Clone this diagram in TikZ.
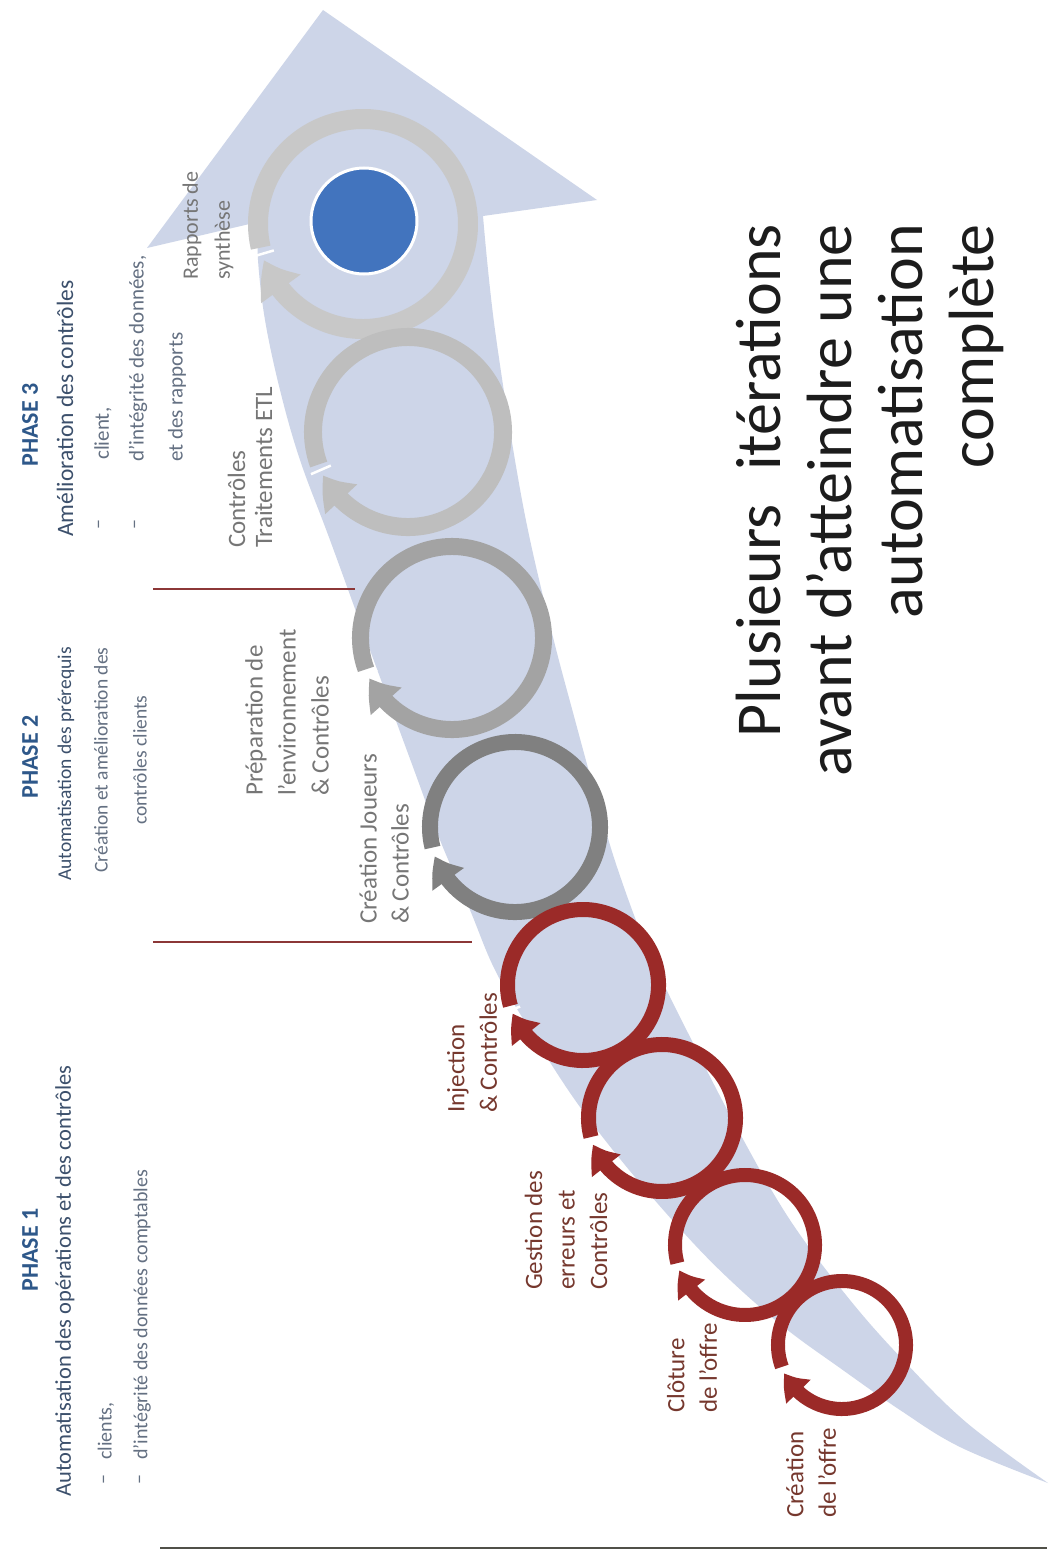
\documentclass[tikz,border=0pt]{standalone}
\usepackage{fontspec}
\setmainfont{Carlito}
\usetikzlibrary{arrows.meta,bending}
\definecolor{bandc}{RGB}{205,213,232}
\definecolor{redr}{RGB}{155,42,40}
\definecolor{gA}{RGB}{128,128,128}
\definecolor{gB}{RGB}{163,163,163}
\definecolor{gC}{RGB}{190,190,190}
\definecolor{gD}{RGB}{200,200,200}
\definecolor{diskc}{RGB}{66,116,190}
\definecolor{graylab}{RGB}{118,118,118}
\definecolor{redlab}{RGB}{118,56,46}
\definecolor{phasec}{RGB}{46,88,138}
\definecolor{phline}{RGB}{60,80,108}
\definecolor{phsub}{RGB}{100,112,130}
\definecolor{sepc}{RGB}{140,55,55}
\definecolor{basec}{RGB}{80,80,72}
\definecolor{bigc}{RGB}{28,28,28}
% #1 centre, #2 radius, #3 thickness, #4 colour, #5 start angle, #6 end angle (tip), #7 gap angle
\newcommand\ringarr[7]{%
  \draw[line width=#3pt, draw=#4, -{Triangle[length=0pt 1.7, width=0pt 2.3, bend]}]
    (#1) ++(#5:#2) arc[start angle=#5, end angle=#6, radius=#2];
  \draw[white, line width=2.5pt] (#1) ++(#7:#2-0.6*#3) -- ++(#7:1.2*#3);
}
\tikzset{
  lab/.style={rotate=90, anchor=west, align=left, inner sep=0pt},
  glab/.style={lab, text=graylab, font=\fontsize{25pt}{32pt}\selectfont},
  rlab/.style={lab, text=redlab, font=\fontsize{25pt}{32.5pt}\selectfont},
  phead/.style={rotate=90, inner sep=0pt, text=phasec, font=\fontsize{24pt}{28pt}\selectfont\bfseries},
  phl/.style={rotate=90, inner sep=0pt, text=phline},
  phs/.style={rotate=90, inner sep=0pt, text=phsub},
  sepline/.style={draw=sepc, line width=1.5pt},
  baseline/.style={draw=basec, line width=2pt},
}
\begin{document}
\begin{tikzpicture}[x=1pt,y=-1pt]
\useasboundingbox (0,0) rectangle (1051,1555);
\fill[white] (0,0) rectangle (1051,1555);

% big curved arrow
\fill[bandc] (147,248) -- (323,10) -- (597,200) -- (483,216)
  -- plot[smooth, tension=0.6] coordinates {(483,216) (495,330) (522,500) (550,625) (575,720) (597,800) (618,870) (648,950) (690,1037) (738,1130) (790,1220) (850,1300) (905,1362) (967,1423) (1048,1483)}
  -- plot[smooth, tension=0.6] coordinates {(1048,1483) (960,1447) (900,1410) (840,1368) (785,1328) (730,1280) (683,1232) (625,1165) (575,1100) (530,1030) (495,970) (470,910) (440,840) (413,767) (370,650) (330,540) (300,460) (280,390) (265,320) (258,260) (258,222)}
  -- cycle;

% centres
\coordinate (c8) at (363,224);
\coordinate (c7) at (408,432);
\coordinate (c6) at (452,638);
\coordinate (c5) at (515,827);
\coordinate (c4) at (583,985);
\coordinate (c3) at (662,1118);
\coordinate (c2) at (745,1245);
\coordinate (c1) at (842,1345);

\ringarr{c8}{105}{20}{gD}{167}{520}{163.5}
\ringarr{c7}{95}{18}{gC}{160}{513}{156.5}
\ringarr{c6}{91.5}{17}{gB}{160}{514}{157}
\ringarr{c5}{85}{16}{gA}{166}{520}{163}
\ringarr{c4}{75.5}{15}{redr}{164}{518}{161}
\ringarr{c3}{73.5}{15}{redr}{165}{519}{162}
\ringarr{c2}{70}{14}{redr}{165}{519}{162}
\ringarr{c1}{64}{14}{redr}{160}{514}{157}

\node[circle, fill=diskc, draw=white, line width=3pt, minimum size=106pt, inner sep=0pt] (disk) at (364,221) {};

% circle labels
\node[glab, font=\fontsize{22pt}{32pt}\selectfont] (l8) at (208,280) {Rapports de\\synthèse};
\node[glab, font=\fontsize{25pt}{27pt}\selectfont] (l7) at (250,548) {Contrôles\\Traitements ETL};
\node[glab, font=\fontsize{25pt}{33pt}\selectfont] (l6) at (287,796) {Préparation de\\l'environnement\\\&\ Contrôles};
\node[glab] (l5) at (384,924) {Création Joueurs\\\&\ Contrôles};
\node[rlab] (l4) at (472,1113) {Injection\\\&\ Contrôles};
\node[rlab] (l3) at (566,1290) {Gestion des\\erreurs et\\Contrôles};
\node[rlab] (l2) at (692,1413) {Clôture\\de l'offre};
\node[rlab] (l1) at (811,1518) {Création\\de l'offre};

% separators and base line
\coordinate (s1a) at (153,589); \coordinate (s1b) at (355,589);
\coordinate (s2a) at (153,942); \coordinate (s2b) at (472,942);
\coordinate (b1) at (160,1548); \coordinate (b2) at (1047,1548);
\draw[sepline] (s1a) -- (s1b);
\draw[sepline] (s2a) -- (s2b);
\draw[baseline] (b1) -- (b2);

% phase 1
\node[phead] (ph1) at (30,1250) {PHASE 1};
\node[phl, anchor=west, font=\fontsize{22.5pt}{26pt}\selectfont] (ph1a) at (65,1497) {Automatisation des opérations et des contrôles};
\node[phs, font=\fontsize{20pt}{24pt}\selectfont] (ph1d1) at (106,1480) {–};
\node[phs, font=\fontsize{20pt}{24pt}\selectfont] (ph1d2) at (142,1480) {–};
\node[phs, anchor=west, font=\fontsize{20pt}{24pt}\selectfont] (ph1b) at (106,1460) {clients,};
\node[phs, anchor=west, font=\fontsize{20pt}{24pt}\selectfont] (ph1c) at (142,1460) {d’intégrité des données comptables};

% phase 2
\node[phead] (ph2) at (30,757) {PHASE 2};
\node[phl, font=\fontsize{19.5pt}{24pt}\selectfont] (ph2a) at (66,764) {Automatisation des prérequis};
\node[phs, font=\fontsize{19.5pt}{24pt}\selectfont] (ph2b) at (101,760) {Création et amélioration des};
\node[phs, font=\fontsize{19.5pt}{24pt}\selectfont] (ph2c) at (140,760) {contrôles clients};

% phase 3
\node[phead] (ph3) at (30,425) {PHASE 3};
\node[phl, anchor=west, font=\fontsize{23.5pt}{26pt}\selectfont] (ph3a) at (65,537) {Amélioration des contrôles};
\node[phs, font=\fontsize{20pt}{24pt}\selectfont] (ph3d1) at (101,525) {–};
\node[phs, font=\fontsize{20pt}{24pt}\selectfont] (ph3d2) at (137,525) {–};
\node[phs, anchor=west, font=\fontsize{21pt}{24pt}\selectfont] (ph3b) at (103,460) {client,};
\node[phs, anchor=west, font=\fontsize{21pt}{24pt}\selectfont] (ph3c) at (138,462) {d’intégrité des données,};
\node[phs, anchor=west, font=\fontsize{21pt}{24pt}\selectfont] (ph3d) at (177,462) {et des rapports};

% title
\node[rotate=90, anchor=east, align=right, inner sep=0pt, text=bigc, font=\fontsize{64pt}{71pt}\selectfont] (title) at (870,224) {Plusieurs\hspace{0.3em} itérations\\avant d'atteindre une\\automatisation\\complète};
\end{tikzpicture}
\end{document}
